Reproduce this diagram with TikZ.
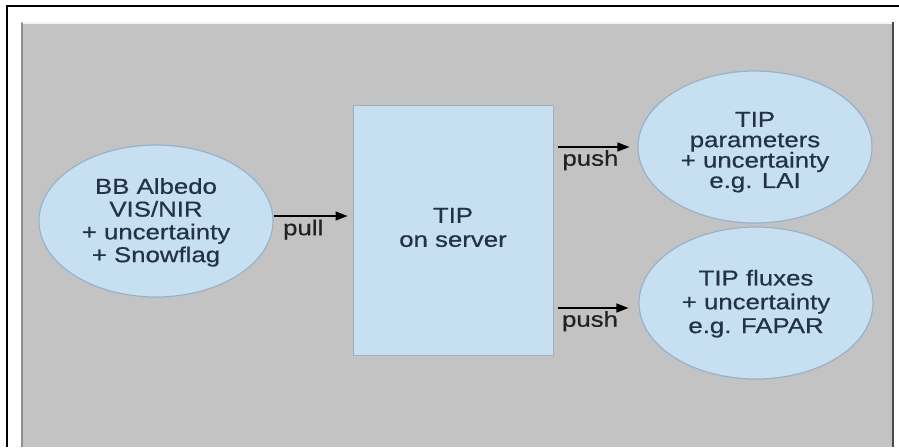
\documentclass[tikz,border=0pt]{standalone}
\usepackage{fontspec}
\setmainfont[FakeStretch=1.2,FakeBold=0.6]{Liberation Sans}
\usetikzlibrary{arrows.meta,shapes.geometric,calc}

\definecolor{panelgray}{HTML}{C3C3C3}
\definecolor{panelleft}{HTML}{8E8E8E}
\definecolor{panelright}{HTML}{4A4A4A}
\definecolor{shapefill}{HTML}{C6DFF1}
\definecolor{ellborder}{HTML}{9AB2C6}
\definecolor{boxborder}{HTML}{A3AFB8}
\definecolor{shapetext}{HTML}{243344}
\definecolor{labeltext}{HTML}{222222}

\tikzset{
  blob/.style={ellipse, fill=shapefill, draw=ellborder, line width=1.2pt,
               minimum width=234pt, minimum height=152pt, inner sep=0pt},
  server/.style={rectangle, fill=shapefill, draw=boxborder, line width=1pt,
                 minimum width=200pt, minimum height=250pt, inner sep=0pt},
  caption/.style={align=center, inner sep=0pt, text=shapetext,
                  font=\fontsize{21.5}{22.8}\selectfont},
  flow/.style={draw=black, line width=1.3pt, -{Triangle[length=12pt,width=9pt]}},
  flowlabel/.style={inner sep=0pt, text=labeltext,
                    font=\fontsize{21.5}{24}\selectfont}
}

\begin{document}
\begin{tikzpicture}[x=1pt, y=-1pt]
  \useasboundingbox (0,0) rectangle (899,447);

  % grey panel
  \fill[panelgray] (21,22) rectangle (893,447);
  \draw[panelleft, line width=2pt] (22,447) -- (22,23);
  \draw[white!85!panelgray, line width=1.5pt] (23,23) -- (892,23);
  \draw[panelright, line width=1.6pt] (893,22) -- (893,447);

  % outer frame (top and left edges)
  \draw[black, line width=2.6pt] (7,447) -- (7,6) -- (899,6);

  % shapes
  \node[blob]   (albedo) at (156,221) {};
  \node[server] (tip)    at (453,230) {};
  \node[blob]   (params) at (755,147) {};
  \node[blob]   (fluxes) at (756,303) {};

  % texts
  \node[caption, font=\fontsize{21.5}{22.8}\selectfont] (albedotext) at (156,222.4)
    {BB Albedo\\VIS/NIR\\+ uncertainty\\+ Snowflag};
  \node[caption, font=\fontsize{21.5}{24}\selectfont] (tiptext) at (453,227.5)
    {TIP\\on server};
  \node[caption, font=\fontsize{21.5}{20.4}\selectfont] (paramstext) at (755,152.2)
    {TIP\\parameters\\+ uncertainty\\e.g. LAI};
  \node[caption, font=\fontsize{21.5}{23.8}\selectfont] (fluxestext) at (756,303.7)
    {TIP fluxes\\+ uncertainty\\e.g. FAPAR};

  % connectors
  \coordinate (pullstart) at ([yshift=5pt]albedo.east);
  \coordinate (pushtwo)   at ([yshift=-5pt]fluxes.west);
  \draw[flow, shorten >=5pt] (pullstart) -- node[flowlabel, pos=0.375, below=3pt] {pull}
    (pullstart -| tip.west);
  \draw[flow, shorten <=4pt, shorten >=8pt] (tip.east |- params.west) --
    node[flowlabel, pos=0.44, below=2.5pt] {push} (params.west);
  \draw[flow, shorten <=4pt, shorten >=10pt] (tip.east |- pushtwo) --
    node[flowlabel, pos=0.43, below=2.5pt] {push} (pushtwo);
\end{tikzpicture}
\end{document}
